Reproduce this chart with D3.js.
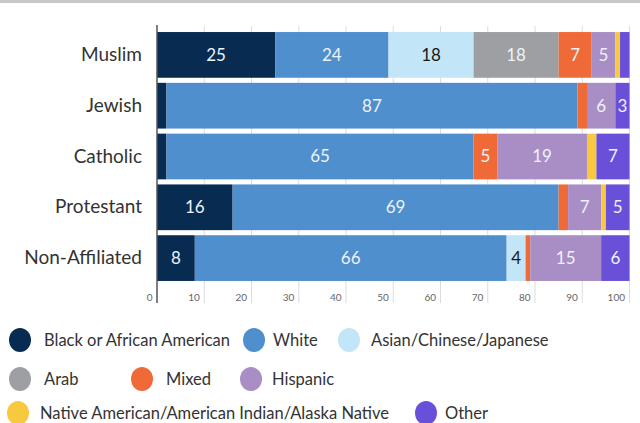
<!DOCTYPE html>
<html>
<head>
<meta charset="utf-8">
<script src="https://cdn.jsdelivr.net/npm/d3@7"></script>
<style>
    body { margin: 0; background: #fff; font-family: Lato, 'Open Sans', sans-serif; }
    .grid line { stroke: #dcdcdc; }
    .x-axis text { fill: #666; font-size: 10px; }
    .y-axis text { fill: #333; font-size: 19px; }
</style>
</head>
<body>
<div id="chart"></div>
<script>
const religions = ['Muslim', 'Jewish', 'Catholic', 'Protestant', 'Non-Affiliated'];
const groups = ['Black or African American', 'White', 'Asian/Chinese/Japanese', 'Arab', 'Mixed', 'Hispanic',
    'Native American/American Indian/Alaska Native', 'Other'];
const colors = ['#082b52', '#4f8fcd', '#c2e5f8', '#9d9fa2', '#ef6a37', '#a98dc5', '#f8c83f', '#6a4fd8'];

// percentages per religion, in the same order as groups
const muslim = [25, 24, 18, 18, 7, 5, 1, 2];
const jewish = [2, 87, 0, 0, 2, 6, 0, 3];
const catholic = [2, 65, 0, 0, 5, 19, 2, 7];
const protestant = [16, 69, 0, 0, 2, 7, 1, 5];
const nonAffiliated = [8, 66, 4, 0, 1, 15, 0, 6];
const xTicks = [0, 10, 20, 30, 40, 50, 60, 70, 80, 90, 100];

const rows = [muslim, jewish, catholic, protestant, nonAffiliated];
const table = religions.map((r, i) => {
    const row = {religion: r};
    groups.forEach((g, j) => row[g] = rows[i][j]);
    return row;
});

const width = 640, height = 423;

const svg = d3.select('#chart').append('svg')
    .attr('width', width)
    .attr('height', height);

// frame line at the top
svg.append('rect')
    .attr('x', 0).attr('y', 0)
    .attr('width', width).attr('height', 3)
    .attr('fill', '#c8c8c8');

const xScale = d3.scaleLinear()
    .domain([0, 100])
    .range([157, 629.5]);

const yScale = d3.scaleBand()
    .domain(religions)
    .range([29.5, 283.5])
    .paddingInner(0.1)
    .paddingOuter(0.05);

const color = d3.scaleOrdinal()
    .domain(groups)
    .range(colors);

// vertical grid lines
svg.append('g')
    .attr('class', 'grid')
    .selectAll('line')
    .data(xTicks.slice(1))
    .enter()
    .append('line')
    .attr('x1', d => xScale(d))
    .attr('x2', d => xScale(d))
    .attr('y1', 26)
    .attr('y2', 303);

const stacked = d3.stack().keys(groups)(table);

const layer = svg.selectAll('g.layer')
    .data(stacked)
    .enter()
    .append('g')
    .attr('class', 'layer')
    .attr('fill', d => color(d.key));

layer.selectAll('rect')
    .data(d => d)
    .enter()
    .append('rect')
    .attr('x', d => xScale(d[0]))
    .attr('y', d => yScale(d.data.religion))
    .attr('width', d => xScale(d[1]) - xScale(d[0]))
    .attr('height', yScale.bandwidth());

layer.selectAll('text')
    .data(d => d.map(s => ({s, key: d.key})))
    .enter()
    .filter(d => d.s[1] - d.s[0] >= 3)
    .append('text')
    .attr('x', d => (xScale(d.s[0]) + xScale(d.s[1])) / 2)
    .attr('y', d => yScale(d.s.data.religion) + yScale.bandwidth() / 2)
    .attr('dy', '0.35em')
    .attr('text-anchor', 'middle')
    .attr('font-size', 17)
    .attr('fill', d => d.key === 'Asian/Chinese/Japanese' ? '#1a1a1a' : '#eef2f8')
    .text(d => d.s[1] - d.s[0]);

// x axis: labels sit left of their tick line
const xAxis = d3.axisBottom(xScale)
    .tickValues(xTicks)
    .tickSize(0)
    .tickSizeOuter(0);

const xAxisGroup = svg.append('g')
    .attr('class', 'axis x-axis')
    .attr('transform', 'translate(0, 297)')
    .call(xAxis)
    .attr('font-family', 'Lato');
xAxisGroup.select('.domain').remove();
xAxisGroup.selectAll('text')
    .attr('y', 0)
    .attr('dy', '0.35em')
    .attr('dx', -5)
    .attr('text-anchor', 'end');

const yAxis = d3.axisLeft(yScale)
    .tickSize(0)
    .tickPadding(15)
    .tickSizeOuter(0);

const yAxisGroup = svg.append('g')
    .attr('class', 'axis y-axis')
    .attr('transform', 'translate(157, 0)')
    .call(yAxis)
    .attr('font-family', 'Lato');
yAxisGroup.select('.domain').remove();

svg.append('line')
    .attr('x1', 157).attr('x2', 157)
    .attr('y1', 25).attr('y2', 303)
    .attr('stroke', '#555')
    .attr('stroke-width', 1.5);

// legend
const legendItems = [
    {name: groups[0], cx: 20, tx: 44, cy: 340},
    {name: groups[1], cx: 254, tx: 273, cy: 340},
    {name: groups[2], cx: 349, tx: 371, cy: 340},
    {name: groups[3], cx: 20, tx: 44, cy: 379},
    {name: groups[4], cx: 142, tx: 166, cy: 379},
    {name: groups[5], cx: 251, tx: 272, cy: 379},
    {name: groups[6], cx: 18, tx: 40, cy: 413},
    {name: groups[7], cx: 426, tx: 445, cy: 413}
];

const legend = svg.selectAll('g.legend')
    .data(legendItems)
    .enter()
    .append('g')
    .attr('class', 'legend');

legend.append('ellipse')
    .attr('cx', d => d.cx)
    .attr('cy', d => d.cy)
    .attr('rx', 11)
    .attr('ry', 12)
    .attr('fill', d => color(d.name));

legend.append('text')
    .attr('x', d => d.tx)
    .attr('y', d => d.cy)
    .attr('dy', '0.35em')
    .attr('font-size', 16.5)
    .attr('fill', '#333')
    .text(d => d.name);
</script>
</body>
</html>
